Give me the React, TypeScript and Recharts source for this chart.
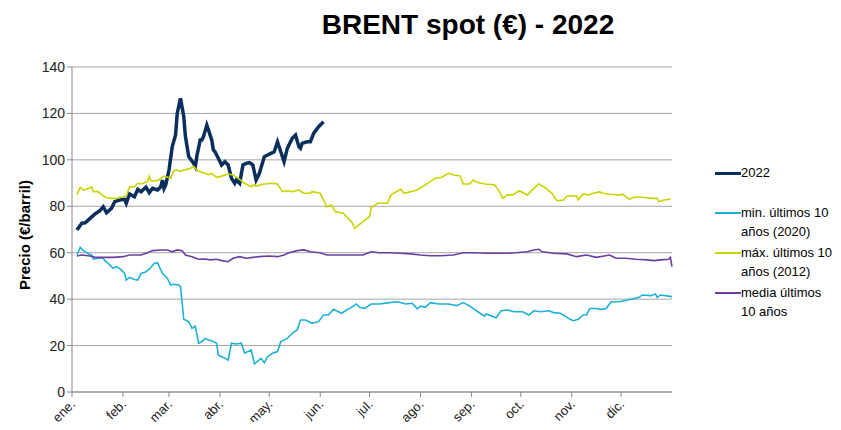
import React from 'react';
import { LineChart, Line, XAxis, YAxis, CartesianGrid, Label } from 'recharts';

// día del año (0 = 1 ene.) y precio en €/barril
const monthTicks = [0, 31, 59, 90, 120, 151, 181, 212, 243, 273, 304, 334];
const monthLabels = ['ene.', 'feb.', 'mar.', 'abr.', 'may.', 'jun.', 'jul.', 'ago.', 'sep.', 'oct.', 'nov.', 'dic.'];
const priceTicks = [0, 20, 40, 60, 80, 100, 120, 140];

const brent2022: [number, number][] = [
  [3, 69.8], [6, 72.7], [8, 72.9], [11, 74.8], [14, 76.7], [17, 78.1], [19, 79.8], [21, 77.2],
  [24, 79.1], [26, 82], [29, 82.7], [32, 83], [33, 81.3], [35, 85.3], [38, 84.1], [40, 87.3],
  [42, 86.3], [45, 88.2], [47, 85.9], [49, 87.7], [52, 87], [54, 88.4], [55, 91.3], [56, 87.7],
  [57, 89.2], [59, 95.6], [61, 105.7], [63, 110.7], [64, 120], [66, 126.5], [68, 118.6], [69, 110],
  [71, 101.4], [74, 98.5], [75, 97.1], [76, 101.8], [78, 108.6], [79, 108.6], [80, 110], [82, 115],
  [83, 112.9], [85, 108.6], [86, 104.3], [87, 103.5], [89, 100.7], [91, 97.8], [93, 99.2], [95, 97.8],
  [97, 92.1], [99, 89.9], [100, 91.3], [102, 89.9], [104, 97.8], [106, 98.5], [108, 98.8], [110, 97.8],
  [112, 91.3], [114, 94.2], [117, 101.4], [119, 102.1], [121, 102.8], [123, 103.5], [125, 107.8], [127, 103.5],
  [129, 99.2], [131, 105], [134, 109.3], [136, 110.7], [138, 105.7], [139, 105], [140, 107.1], [143, 107.8],
  [145, 107.8], [147, 111.4], [150, 114.3], [152, 115.7], [153, 116.4],
];

const min2020: [number, number][] = [
  [3, 59], [5, 62.3], [7, 60.9], [10, 59.5], [12, 59], [13, 57.2], [16, 57.6], [19, 57.6],
  [20, 56.6], [22, 55.4], [25, 53.3], [27, 54], [30, 52.6], [32, 51.1], [33, 48.2], [35, 49.4],
  [38, 48.5], [40, 48.2], [42, 51.1], [45, 51.8], [47, 52.9], [50, 55.4], [52, 55.7], [55, 51.1],
  [58, 49], [60, 46.1], [62, 46.4], [65, 46.1], [66, 45.4], [68, 31.3], [71, 30.3], [73, 27.4],
  [75, 28.4], [77, 21], [79, 21.7], [81, 23.1], [83, 22.4], [85, 22.1], [88, 21], [89, 15.9],
  [92, 14.9], [95, 13.8], [97, 21], [100, 20.7], [103, 21], [105, 16.7], [109, 18.1], [111, 12.1],
  [115, 14.5], [117, 12.6], [119, 15.2], [122, 16.7], [125, 17.4], [127, 21.7], [131, 23.1], [134, 25.3],
  [137, 26.7], [139, 31], [142, 31], [146, 29.6], [150, 30.3], [153, 33.2], [156, 33.2], [159, 35.6],
  [164, 33.9], [167, 35.3], [169, 36], [173, 37.9], [175, 36.5], [178, 36], [182, 37.9], [187, 37.9],
  [193, 38.5], [198, 38.9], [203, 37.9], [207, 38.2], [210, 35.8], [212, 37], [215, 36.5], [218, 38.5],
  [223, 37.9], [229, 37.9], [234, 37.2], [238, 38.5], [242, 37], [246, 35], [251, 32.7], [252, 33.6],
  [258, 32], [261, 35], [265, 35.3], [269, 34.6], [274, 34.6], [278, 33.2], [281, 35], [285, 34.6],
  [290, 35], [293, 34.2], [297, 33.9], [300, 32.7], [303, 31.3], [305, 30.7], [308, 31.3], [311, 33.2],
  [313, 33.2], [315, 36], [319, 36], [322, 35.6], [325, 36], [328, 38.9], [333, 38.9], [338, 39.6],
  [342, 40.3], [345, 40.8], [347, 41.8], [352, 41.5], [355, 42.2], [356, 40.8], [358, 41.8], [362, 41.4],
  [365, 41.1],
];

const max2012: [number, number][] = [
  [3, 84.9], [5, 88.2], [7, 87], [10, 87.7], [12, 88.4], [13, 86.3], [16, 86.3], [19, 84.4],
  [21, 83.7], [24, 83.4], [27, 83.4], [30, 83.9], [33, 84.4], [35, 88.4], [38, 88.4], [40, 89.9],
  [42, 89.6], [46, 90.6], [47, 93], [48, 91], [52, 91], [55, 92.5], [56, 93], [60, 92.1],
  [62, 95.3], [64, 95.6], [66, 94.9], [68, 95.6], [70, 95.9], [72, 96.4], [74, 97.1], [76, 95.6],
  [78, 94.9], [81, 94.2], [83, 93.5], [85, 94.2], [88, 92.5], [91, 93], [95, 93.9], [98, 93.5],
  [101, 92.1], [105, 89.9], [109, 88.4], [110, 89.2], [112, 88.7], [116, 89.5], [121, 89.9], [125, 89.6],
  [128, 86.3], [131, 86.7], [134, 86.3], [138, 87], [141, 85.6], [145, 85.6], [146, 86.3], [151, 85.6],
  [155, 79.8], [158, 80.6], [160, 77.7], [165, 77], [170, 73.4], [172, 70.5], [177, 73.4], [181, 75.5],
  [182, 79.4], [186, 81.3], [192, 81.3], [194, 84.9], [200, 87.3], [202, 85.6], [206, 86.3], [210, 87],
  [215, 89.2], [217, 90.2], [221, 92.1], [225, 92.5], [229, 94.2], [232, 93.5], [236, 93.2], [238, 89.6],
  [242, 89.6], [244, 91.3], [247, 90.2], [251, 89.6], [257, 89.3], [260, 86.3], [262, 83.4], [265, 84.9],
  [268, 84.9], [272, 86.7], [277, 84.9], [281, 87.7], [284, 89.6], [287, 88.4], [292, 85.6], [295, 82.4],
  [299, 82.7], [301, 84.4], [307, 84.4], [308, 82.7], [311, 85.3], [314, 84.9], [317, 85.6], [321, 86.2],
  [323, 85.6], [327, 85.2], [333, 84.9], [335, 85.2], [339, 83], [342, 83.9], [347, 83.9], [352, 83.4],
  [356, 83.4], [357, 82], [360, 82.7], [364, 83.1],
];

const media10: [number, number][] = [
  [3, 58.6], [6, 59], [11, 58.6], [14, 58], [19, 58], [25, 58], [31, 58.3], [35, 59],
  [39, 59], [42, 59], [46, 60], [49, 60.9], [54, 61.2], [58, 61.2], [61, 60.4], [64, 61.2],
  [67, 60.9], [69, 59], [73, 58.3], [77, 57.2], [81, 57.3], [84, 56.9], [88, 57.2], [91, 56.6],
  [95, 56.1], [98, 57.6], [102, 58.3], [106, 57.6], [110, 58], [114, 58.3], [120, 58.6], [125, 58.3],
  [129, 59], [132, 60], [137, 60.9], [141, 61.2], [145, 60.4], [151, 60], [155, 59], [161, 59],
  [167, 59], [173, 59], [177, 59], [182, 60.4], [187, 60], [193, 60], [200, 59.8], [206, 59.5],
  [212, 59], [218, 58.7], [224, 58.7], [232, 59], [238, 60], [246, 60], [252, 59.8], [258, 59.8],
  [264, 59.8], [270, 60], [277, 60.4], [281, 61.2], [284, 61.5], [286, 60.4], [293, 59.8], [301, 59.5],
  [307, 58.3], [313, 59], [319, 58], [327, 59], [331, 57.6], [337, 57.6], [343, 57.2], [350, 56.9],
  [354, 56.6], [358, 56.9], [363, 57.2], [364, 58], [365, 54],
];

const toRows = (pairs: [number, number][]) => pairs.map(([day, value]) => ({ day, value }));

const series = [
  { name: '2022', data: toRows(brent2022), color: '#0A2F5C', width: 3.5, legend: ['2022'] },
  { name: 'min', data: toRows(min2020), color: '#1DB1D6', width: 1.6, legend: ['min. últimos 10', 'años (2020)'] },
  { name: 'max', data: toRows(max2012), color: '#C8D400', width: 1.6, legend: ['máx. últimos 10', 'años (2012)'] },
  { name: 'media', data: toRows(media10), color: '#6B3FA0', width: 1.6, legend: ['media últimos', '10 años'] },
];

const FONT = '"Liberation Sans", Arial, sans-serif';

const MonthTick = (props: any) => {
  const { x, y, payload } = props;
  const idx = monthTicks.indexOf(payload.value);
  return (
    <g transform={`translate(${x + 4},${y + 6})`}>
      <text textAnchor="end" transform="rotate(-45)" fontSize={13} fill="#222" fontFamily={FONT}>
        {monthLabels[idx]}
      </text>
    </g>
  );
};

export default function App() {
  return (
    <div style={{ position: 'relative', width: 841, height: 430, margin: -8, background: '#fff', fontFamily: FONT }}>
      <div style={{ position: 'absolute', left: 0, top: 9, width: 936, textAlign: 'center', fontSize: 28, fontWeight: 'bold', color: '#000' }}>
        BRENT spot (€) - 2022
      </div>
      <LineChart width={841} height={430} margin={{ top: 67, right: 169, bottom: 8, left: 12 }}>
        <CartesianGrid horizontal vertical={false} stroke="#A6A6A6" />
        <XAxis
          type="number"
          dataKey="day"
          domain={[0, 365]}
          ticks={monthTicks}
          interval={0}
          height={30}
          tick={<MonthTick />}
          tickSize={5}
          stroke="#888"
          allowDuplicatedCategory={false}
        />
        <YAxis
          domain={[0, 140]}
          ticks={priceTicks}
          width={60}
          tickSize={5}
          stroke="#888"
          tick={{ fill: '#222', fontSize: 14, fontFamily: FONT }}
        >
          <Label
            content={() => (
              <text x={26} y={235} transform="rotate(-90 26 235)" textAnchor="middle" dominantBaseline="middle"
                fontSize={15} fontWeight="bold" fill="#000" fontFamily={FONT}>
                Precio (€/barril)
              </text>
            )}
          />
        </YAxis>
        {series.map(s => (
          <Line key={s.name} data={s.data} dataKey="value" type="linear" stroke={s.color}
            strokeWidth={s.width} dot={false} isAnimationActive={false} />
        ))}
      </LineChart>
      {series.map((s, i) => (
        <div key={s.name} style={{ position: 'absolute', left: 715, top: 163 + i * 40, fontSize: 13, lineHeight: '19px', color: '#000' }}>
          <div style={{ position: 'absolute', left: 0, top: 9, width: 26, height: s.name === '2022' ? 3 : 2, background: s.color }} />
          <div style={{ marginLeft: 26, whiteSpace: 'nowrap' }}>
            {s.legend.map(l => <div key={l}>{l}</div>)}
          </div>
        </div>
      ))}
    </div>
  );
}
